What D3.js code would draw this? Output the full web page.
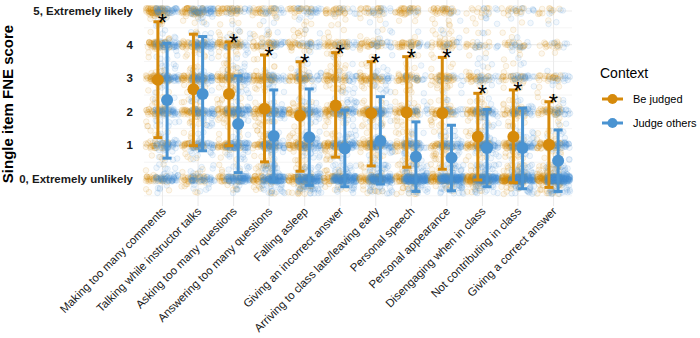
<!DOCTYPE html>
<html>
<head>
<meta charset="utf-8">
<script src="https://cdn.jsdelivr.net/npm/d3@7"></script>
<style>
  body { margin: 0; background: #fff; }
  svg { font-family: "Liberation Sans", Arial, Helvetica, sans-serif; }
</style>
</head>
<body>
<svg id="chart" width="700" height="338"></svg>
<script>
// behaviours (x categories)
const behaviours = [
    'Making too many comments', 'Talking while instructor talks', 'Asking too many questions',
    'Answering too many questions', 'Falling asleep', 'Giving an incorrect answer',
    'Arriving to class late/leaving early', 'Personal speech', 'Personal appearance',
    'Disengaging when in class', 'Not contributing in class', 'Giving a correct answer'
];
const contexts = ['Be judged', 'Judge others'];
const colours = ['#D68A0B', '#4A93D1'];

// mean and error-bar ends
const judgedMean  = [2.95, 2.67, 2.53, 2.09, 1.88, 2.19, 1.96, 1.98, 1.96, 1.26, 1.26, 1.02];
const judgedLow   = [1.23, 0.99, 0.99, 0.51, 0.23, 0.65, 0.39, 0.35, 0.29, -0.03, -0.11, -0.25];
const judgedHigh  = [4.68, 4.31, 4.08, 3.69, 3.49, 3.76, 3.49, 3.64, 3.62, 2.55, 2.65, 2.30];
const othersMean  = [2.35, 2.53, 1.64, 1.28, 1.24, 0.91, 1.14, 0.66, 0.63, 0.92, 0.92, 0.54];
const othersLow   = [0.62, 0.84, 0.19, -0.09, -0.19, -0.23, -0.15, -0.37, -0.35, -0.23, -0.29, -0.37];
const othersHigh  = [4.04, 4.24, 3.07, 2.65, 2.68, 2.05, 2.45, 1.70, 1.60, 2.07, 2.11, 1.46];
const significant = [true, false, true, true, true, true, true, true, true, true, true, true];

// estimated number of responses at each score 0..5 (in units of 3 respondents)
const judgedCounts = [
    [14, 15, 18, 22, 21, 30], [16, 16, 22, 24, 20, 22], [14, 18, 26, 26, 20, 16],
    [24, 22, 24, 22, 16, 12], [34, 22, 22, 18, 14, 10], [22, 22, 24, 22, 18, 12],
    [30, 22, 24, 20, 14, 10], [34, 20, 20, 18, 14, 14], [36, 18, 20, 18, 14, 14],
    [48, 28, 20, 12, 7, 5], [52, 24, 18, 12, 8, 6], [60, 24, 16, 10, 6, 4]
];
const othersCounts = [
    [22, 18, 22, 22, 20, 16], [18, 18, 22, 22, 20, 20], [36, 26, 24, 18, 10, 6],
    [50, 24, 20, 12, 8, 6], [56, 20, 16, 12, 8, 8], [60, 28, 16, 8, 5, 3],
    [56, 24, 18, 10, 7, 5], [80, 18, 10, 6, 4, 2], [80, 20, 9, 5, 4, 2],
    [62, 26, 16, 8, 5, 3], [64, 24, 14, 9, 5, 4], [84, 18, 9, 5, 2, 2]
];
const unit = 3;

const yTicks = [0, 1, 2, 3, 4, 5];
const yTickLabels = ['0, Extremely unlikely', '1', '2', '3', '4', '5, Extremely likely'];

const svg = d3.select('#chart');

const panel = {left: 144, right: 572, top: 0, bottom: 206};

const x = d3.scaleBand()
    .domain(behaviours)
    .range([panel.left, panel.right])
    .paddingInner(0)
    .paddingOuter(0.02);
const y = d3.scaleLinear()
    .domain([0, 5])
    .range([179, 11]);
const dodge = 4.6;
const cx = (i, c) => x(behaviours[i]) + x.bandwidth() / 2 + (c === 0 ? -dodge : dodge);

// grid
const grid = svg.append('g');
d3.range(-0.5, 5.01, 0.5).forEach(v => {
    const yy = y(v);
    if (yy < panel.top || yy > panel.bottom) return;
    grid.append('line')
        .attr('x1', panel.left).attr('x2', panel.right)
        .attr('y1', yy).attr('y2', yy)
        .attr('stroke', '#ebebeb')
        .attr('stroke-width', Number.isInteger(v) ? 1.1 : 0.55);
});
behaviours.forEach(b => {
    grid.append('line')
        .attr('x1', x(b) + x.bandwidth() / 2).attr('x2', x(b) + x.bandwidth() / 2)
        .attr('y1', panel.top).attr('y2', panel.bottom)
        .attr('stroke', '#ebebeb')
        .attr('stroke-width', 1.1);
});

// jittered raw responses
const rand = d3.randomLcg(0.42);
const pts = [];
behaviours.forEach((b, i) => {
    [judgedCounts[i], othersCounts[i]].forEach((counts, c) => {
        counts.forEach((n, score) => {
            for (let k = 0; k < n * unit; k++) {
                const wide = rand() < 0.28;
                const dy = wide ? (rand() - 0.5) * 0.9 : (rand() - 0.5) * 0.18;
                pts.push({
                    c: c,
                    px: cx(i, c) + (rand() - 0.5) * 24,
                    py: y(Math.min(5.08, score + dy))
                });
            }
        });
    });
});
d3.shuffle(pts, rand);

svg.append('g')
    .selectAll('circle')
    .data(pts)
    .enter()
    .append('circle')
    .attr('cx', d => d.px)
    .attr('cy', d => d.py)
    .attr('r', 2.8)
    .attr('fill', d => colours[d.c])
    .attr('fill-opacity', 0.07)
    .attr('stroke', d => colours[d.c])
    .attr('stroke-opacity', 0.2)
    .attr('stroke-width', 0.7);

// point ranges
const summary = [
    {mean: judgedMean, low: judgedLow, high: judgedHigh},
    {mean: othersMean, low: othersLow, high: othersHigh}
];
const ranges = svg.append('g');
summary.forEach((s, c) => {
    behaviours.forEach((b, i) => {
        const xx = cx(i, c);
        const g = ranges.append('g').attr('stroke', colours[c]).attr('stroke-width', 3);
        g.append('line').attr('x1', xx).attr('x2', xx).attr('y1', y(s.low[i])).attr('y2', y(s.high[i]));
        g.append('line').attr('x1', xx - 4.5).attr('x2', xx + 4.5).attr('y1', y(s.low[i])).attr('y2', y(s.low[i]));
        g.append('line').attr('x1', xx - 4.5).attr('x2', xx + 4.5).attr('y1', y(s.high[i])).attr('y2', y(s.high[i]));
        ranges.append('circle').attr('cx', xx).attr('cy', y(s.mean[i])).attr('r', 6).attr('fill', colours[c]);
    });
});

// significance stars
svg.append('g')
    .selectAll('text')
    .data(behaviours.map((b, i) => i).filter(i => significant[i]))
    .enter()
    .append('text')
    .attr('x', i => x(behaviours[i]) + x.bandwidth() / 2)
    .attr('y', i => y(judgedHigh[i]) + 9)
    .attr('text-anchor', 'middle')
    .attr('font-size', 24)
    .attr('fill', '#000')
    .text('*');

// y axis labels
svg.append('g')
    .selectAll('text')
    .data(yTicks)
    .enter()
    .append('text')
    .attr('x', 133)
    .attr('y', d => y(d))
    .attr('dy', '0.35em')
    .attr('text-anchor', 'end')
    .attr('font-size', 11.5)
    .attr('font-weight', 'bold')
    .attr('fill', '#1a1a1a')
    .text(d => yTickLabels[d]);

svg.append('text')
    .attr('transform', 'translate(13,' + 104 + ') rotate(-90)')
    .attr('text-anchor', 'middle')
    .attr('font-size', 15)
    .attr('font-weight', 'bold')
    .attr('fill', '#000')
    .text('Single item FNE score');

// x axis labels
svg.append('g')
    .selectAll('text')
    .data(behaviours)
    .enter()
    .append('text')
    .attr('transform', d => 'translate(' + (x(d) + x.bandwidth() / 2 + 4) + ',212) rotate(-45)')
    .attr('text-anchor', 'end')
    .attr('font-size', 11.5)
    .attr('fill', '#1a1a1a')
    .text(d => d);

// legend
const legend = svg.append('g').attr('transform', 'translate(600,0)');
legend.append('text')
    .attr('x', 0).attr('y', 78)
    .attr('font-size', 14)
    .attr('fill', '#000')
    .text('Context');
contexts.forEach((name, c) => {
    const ly = 99 + c * 24;
    legend.append('line')
        .attr('x1', 2).attr('x2', 23).attr('y1', ly).attr('y2', ly)
        .attr('stroke', colours[c]).attr('stroke-width', 3);
    legend.append('circle').attr('cx', 12.5).attr('cy', ly).attr('r', 5).attr('fill', colours[c]);
    legend.append('text')
        .attr('x', 33).attr('y', ly).attr('dy', '0.35em')
        .attr('font-size', 11)
        .attr('fill', '#000')
        .text(name);
});
</script>
</body>
</html>
